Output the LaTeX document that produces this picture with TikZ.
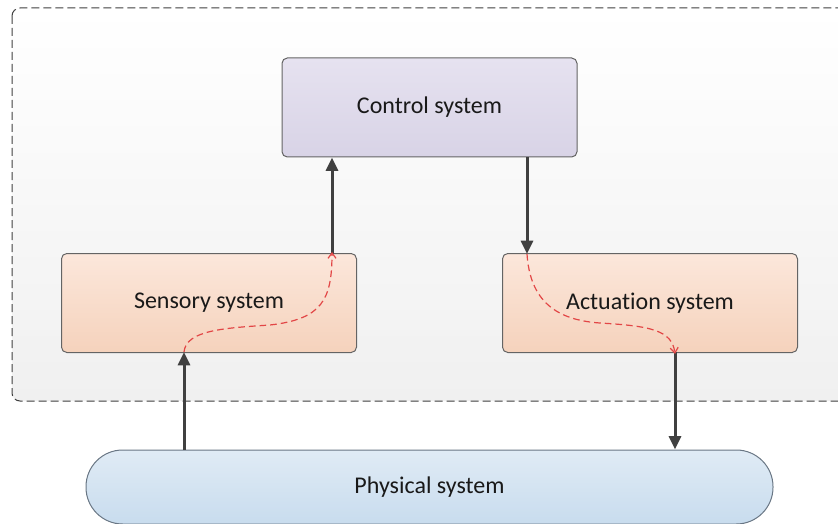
\documentclass[tikz,border=0pt]{standalone}
\usepackage{fontspec}
\setmainfont[RawFeature={-liga,-clig,-calt,-dlig}]{Carlito}
\usetikzlibrary{arrows.meta}

\definecolor{arrowgray}{RGB}{64,64,64}
\definecolor{boxline}{RGB}{100,100,100}
\definecolor{pathred}{RGB}{226,70,70}

\tikzset{every picture/.style={line width=0.75pt}}

\begin{document}
\begin{tikzpicture}[x=0.75pt,y=0.75pt,yscale=-1,xscale=1,
  sysbox/.style={draw=boxline, rounded corners=4pt, minimum width=221.25pt, minimum height=74.25pt, font=\fontsize{18}{22}\selectfont, text=black!90},
  flow/.style={draw=arrowgray, line width=2.25pt, -{Triangle[length=10pt,width=9pt]}},
  signal/.style={draw=pathred, dashed, dash pattern=on 5pt off 3pt, line width=0.9pt, -{Straight Barb[length=4pt,width=6pt]}}]
	\useasboundingbox (0,0) rectangle (838,524);

	%Shape: Rectangle [id:container]
	\draw [draw=black!75, dashed, dash pattern=on 6pt off 3pt, rounded corners=6pt, top color=white, bottom color={rgb,255:red,240;green,240;blue,240}] (12,8) rectangle (860,401);

	% Nodes
	\node [sysbox, top color={rgb,255:red,230;green,226;blue,240}, bottom color={rgb,255:red,216;green,211;blue,230}] (control) at (429.5,107.5) {Control system};
	\node [sysbox, top color={rgb,255:red,252;green,231;blue,219}, bottom color={rgb,255:red,245;green,210;blue,188}] (sensory) at (209,303) {Sensory system};
	\node [sysbox, top color={rgb,255:red,252;green,231;blue,219}, bottom color={rgb,255:red,245;green,210;blue,188}] (actuation) at (650,303) {Actuation system};
	\node [sysbox, draw={rgb,255:red,105;green,118;blue,132}, rounded corners=27.5pt, minimum width=515.25pt, minimum height=55.5pt, top color={rgb,255:red,224;green,235;blue,245}, bottom color={rgb,255:red,200;green,220;blue,238}] (physical) at (429.5,487) {Physical system};

	% Ports
	\coordinate (sensIn) at (184,352);
	\coordinate (sensOut) at (332,254);
	\coordinate (actIn) at (527,254);
	\coordinate (actOut) at (675,352);

	%Straight Lines
	\draw [flow] (physical.north -| sensIn) -- (sensIn);
	\draw [flow] (sensOut) -- (sensOut |- control.south);
	\draw [flow] (actIn |- control.south) -- (actIn);
	\draw [flow] (actOut) -- (actOut |- physical.north);

	%Curve Lines
	\draw [signal] (sensIn) .. controls (186,330) and (225,328) .. (270,325) .. controls (322,319) and (332,300) .. ([yshift=-1.5pt]sensOut);
	\draw [signal] (actIn) .. controls (530,300) and (555,320) .. (600,323) .. controls (650,326) and (672,330) .. ([yshift=1.5pt]actOut);

\end{tikzpicture}
\end{document}
